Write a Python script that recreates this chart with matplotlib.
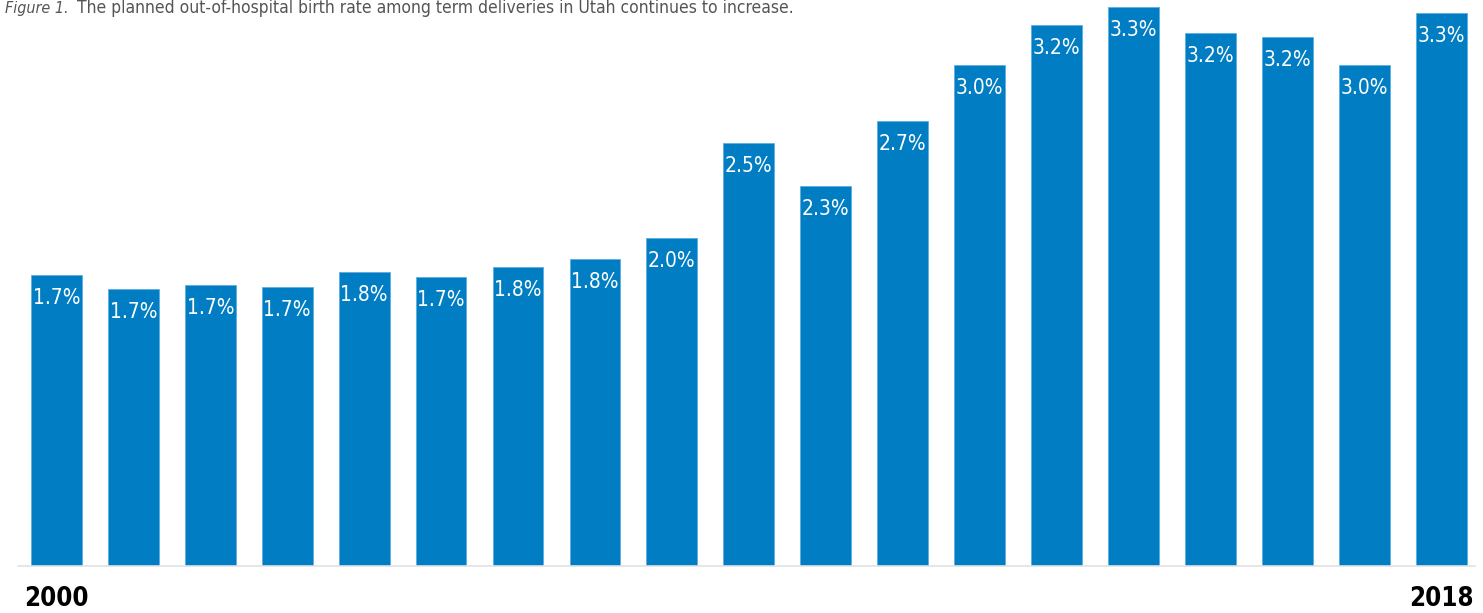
import matplotlib
matplotlib.use("Agg")
import matplotlib.pyplot as plt
from matplotlib import font_manager as fm

years = list(range(2000, 2019))
values = [1.73, 1.65, 1.67, 1.66, 1.75, 1.72, 1.78, 1.83, 1.95, 2.52,
          2.26, 2.65, 2.98, 3.22, 3.33, 3.17, 3.15, 2.98, 3.29]
labels = ["1.7%", "1.7%", "1.7%", "1.7%", "1.8%", "1.7%", "1.8%", "1.8%", "2.0%", "2.5%",
          "2.3%", "2.7%", "3.0%", "3.2%", "3.3%", "3.2%", "3.2%", "3.0%", "3.3%"]
tick_labels = {2000: "2000", 2018: "2018"}
title_a = "Figure 1."
title_b = "The planned out-of-hospital birth rate among term deliveries in Utah continues to increase."

names = {f.name for f in fm.fontManager.ttflist}
if "Liberation Sans Narrow" in names:
    FONT = ["Liberation Sans Narrow", "DejaVu Sans"]
    STRETCH = "normal"
else:
    FONT = ["DejaVu Sans"]
    STRETCH = "condensed"
plt.rcParams['font.family'] = FONT

W, H = 1483, 613
fig = plt.figure(figsize=(W / 100, H / 100), dpi=100)
ax = fig.add_axes([18 / W, (H - 566) / H, (1475 - 18) / W, 566 / H])

x = list(range(len(years)))
ax.bar(x, values, width=0.66, color="#007DC3", edgecolor="#5aaee0", linewidth=0.6)
ax.set_xlim(-0.5, 18.44)
ax.set_ylim(0, 566 / 168)

for xi, v, lab in zip(x, values, labels):
    ax.annotate(lab, (xi, v), xytext=(0, -23), textcoords="offset pixels",
                ha="center", va="center", color="white", fontsize=15, fontstretch=STRETCH)

for s in ["top", "right", "left"]:
    ax.spines[s].set_visible(False)
ax.spines["bottom"].set_color("#e2e2e2")
ax.spines["bottom"].set_linewidth(1.2)
ax.set_yticks([])
ax.set_xticks([])

for yr, t in tick_labels.items():
    xi = years.index(yr)
    ax.annotate(t, (xi, 0), xytext=(0, -33), textcoords="offset pixels",
                ha="center", va="center", fontsize=18.5, fontweight="bold", color="black",
                fontstretch=STRETCH, annotation_clip=False)

ta = fig.text(5 / W, 1 - 8 / H, title_a, ha="left", va="center", fontsize=11.5,
              style="italic", color="#555555", fontstretch=STRETCH)
tb = fig.text(53 / W, 1 - 8 / H, title_b, ha="left", va="center", fontsize=12.5,
              color="#555555", fontstretch=STRETCH)
fig.canvas.draw()
r = fig.canvas.get_renderer()
ext = ta.get_window_extent(r)
tb.set_x((ext.x1 + 8) / W)

fig.savefig("out.png", dpi=100)
